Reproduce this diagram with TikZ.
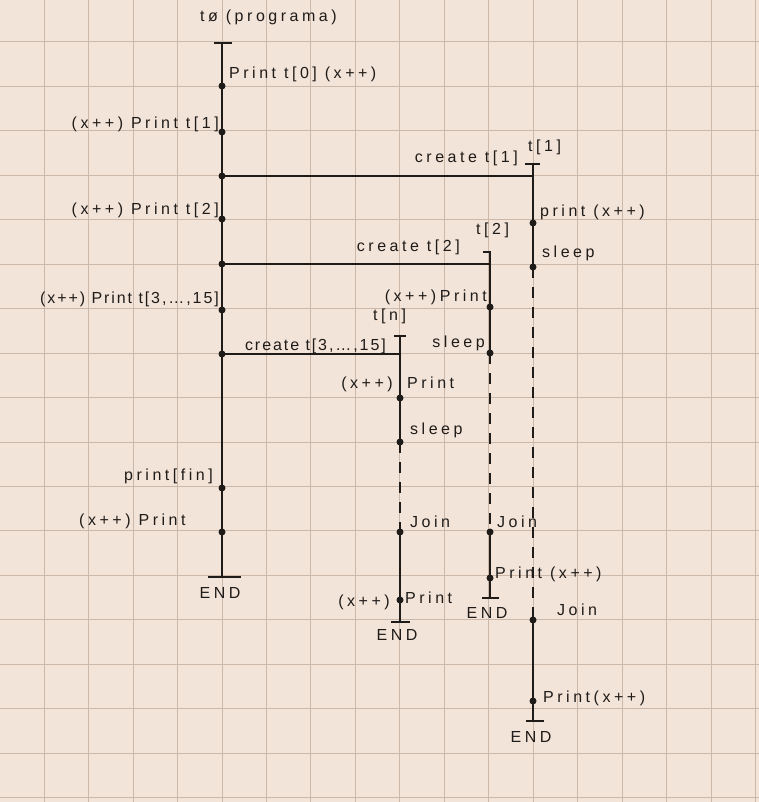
\documentclass[tikz,border=0pt]{standalone}
\usepackage{fontspec}
\setmainfont{Liberation Sans}[LetterSpace=22]
\definecolor{paper}{HTML}{F3E4D9}
\definecolor{gridc}{HTML}{CBB8A8}
\definecolor{ink}{HTML}{1F1B18}
\tikzset{
  gridline/.style={draw=gridc, line width=0.9pt},
  life/.style={draw=ink, line width=1.5pt},
  idle/.style={draw=ink, line width=1.4pt, dash pattern=on 11pt off 9pt},
  tickbar/.style={draw=ink, line width=1.3pt},
  ev/.style={circle, fill=ink, inner sep=0pt, minimum size=7pt},
  lbl/.style={font=\fontsize{16}{18}\selectfont, text=ink, inner sep=0pt},
  lblL/.style={lbl, anchor=east},
  lblR/.style={lbl, anchor=west},
  tight/.style={font=\fontsize{16}{18}\selectfont\addfontfeatures{LetterSpace=12}},
}
\begin{document}
\begin{tikzpicture}[x=1pt,y=-1pt]
\fill[paper] (0,0) rectangle (759,802);
\useasboundingbox (0,0) rectangle (759,802);
% grid
\foreach \k in {0,...,17} {
  \draw[gridline] ({44.45*\k-0.25},0) -- ({44.45*\k-0.25},802);
}
\foreach \k in {1,...,18} {
  \draw[gridline] (0,{44.45*\k-2.5}) -- (759,{44.45*\k-2.5});
}

% ---------- main thread t0 ----------
\coordinate (m0) at (222,43);
\coordinate (m1) at (222,86);
\coordinate (m2) at (222,132);
\coordinate (mc1) at (222,176);
\coordinate (m3) at (222,219);
\coordinate (mc2) at (222,264);
\coordinate (m4) at (222,310);
\coordinate (mc3) at (222,354);
\coordinate (m5) at (222,488);
\coordinate (m6) at (222,532);
\coordinate (mend) at (222,577);
\draw[tickbar] (214,43) -- (232,43);
\draw[life] (m0) -- (mend);
\draw[tickbar] (208,577) -- (241,577);
\foreach \p in {m1,m2,mc1,m3,mc2,m4,mc3,m5,m6} \node[ev] at (\p) {};

\node[lblR] (lt0) at (200,17) {tø (programa)};
\node[lblR] (lm1) at (229,74) {Print t[0] (x++)};
\node[lblL] (lm2) at (219,124) {(x++) Print t[1]};
\node[lblL] (lm3) at (219,210) {(x++) Print t[2]};
\node[lblL, tight] (lm4) at (219,299) {(x++) Print t[3,…,15]};
\node[lblL] (lm5) at (213,476) {print[fin]};
\node[lblR] (lm6) at (79,521) {(x++) Print};
\node[lbl] (lmend) at (220,593) {END};

% ---------- thread t[1] ----------
\coordinate (a0) at (533,164);
\coordinate (a1) at (533,223);
\coordinate (a2) at (533,267);
\coordinate (a3) at (533,620);
\coordinate (a4) at (533,701);
\coordinate (aend) at (533,721);
\coordinate (ac) at (533,176);
\draw[tickbar] (525,164) -- (540,164);
\draw[life] (mc1) -- (ac);
\draw[life] (a0) -- (a2);
\draw[idle] (a2) -- (a3);
\draw[life] (a3) -- (aend);
\draw[tickbar] (526,721) -- (544,721);
\foreach \p in {a1,a2,a3,a4} \node[ev] at (\p) {};

\node[lblR] (la0) at (528,147) {t[1]};
\node[lblL] (lac) at (518,158) {create t[1]};
\node[lblR] (la1) at (540,212) {print (x++)};
\node[lblR] (la2) at (542,253) {sleep};
\node[lblR] (la3) at (557,610) {Join};
\node[lblR] (la4) at (543,698) {Print(x++)};
\node[lbl] (laend) at (531,737) {END};

% ---------- thread t[2] ----------
\coordinate (b0) at (490,252);
\coordinate (bc) at (490,264);
\coordinate (b1) at (490,307);
\coordinate (b2) at (490,353);
\coordinate (b3) at (490,532);
\coordinate (b4) at (490,578);
\coordinate (bend) at (490,598);
\draw[tickbar] (483,252) -- (491,252);
\draw[life] (mc2) -- (bc);
\draw[life] (b0) -- (b2);
\draw[idle] (b2) -- (b3);
\draw[life] (b3) -- (bend);
\draw[tickbar] (482,598) -- (499,598);
\foreach \p in {b1,b2,b3,b4} \node[ev] at (\p) {};

\node[lblR] (lb0) at (476,230) {t[2]};
\node[lblL] (lbc) at (460,247) {create t[2]};
\node[lblL] (lb1) at (487,297) {(x++)Print};
\node[lblL] (lb2) at (485,343) {sleep};
\node[lblR] (lb3) at (497,522) {Join};
\node[lblR] (lb4) at (495,574) {Print (x++)};
\node[lbl] (lbend) at (487,613) {END};

% ---------- thread t[n] ----------
\coordinate (c0) at (400,336);
\coordinate (cc) at (400,354);
\coordinate (c1) at (400,398);
\coordinate (c2) at (400,442);
\coordinate (c3) at (400,532);
\coordinate (c4) at (400,600);
\coordinate (cend) at (400,622);
\draw[tickbar] (394,336) -- (406,336);
\draw[life] (mc3) -- (cc);
\draw[life] (c0) -- (c2);
\draw[idle] (c2) -- (c3);
\draw[life] (c3) -- (cend);
\draw[tickbar] (391,622) -- (410,622);
\foreach \p in {c1,c2,c3,c4} \node[ev] at (\p) {};

\node[lblR] (lc0) at (373,316) {t[n]};
\node[lblL, tight] (lcc) at (386,346) {create t[3,…,15]};
\node[lblL] (lc1a) at (393,384) {(x++)};
\node[lblR] (lc1b) at (407,383) {Print};
\node[lblR] (lc2) at (410,430) {sleep};
\node[lblR] (lc3) at (410,522) {Join};
\node[lblL] (lc4a) at (390,602) {(x++)};
\node[lblR] (lc4b) at (405,598) {Print};
\node[lbl] (lcend) at (397,635) {END};
\end{tikzpicture}
\end{document}
